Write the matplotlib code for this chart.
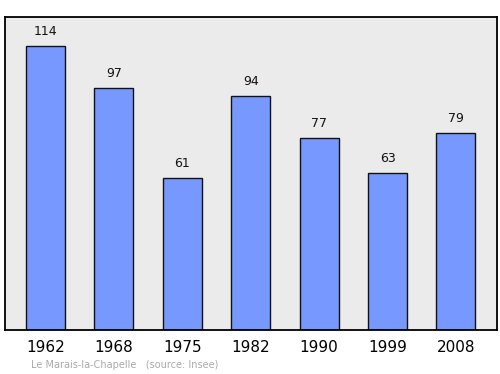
import matplotlib
matplotlib.use("Agg")
import matplotlib.pyplot as plt

years = ["1962", "1968", "1975", "1982", "1990", "1999", "2008"]
population = [114, 97, 61, 94, 77, 63, 79]

fig = plt.figure(figsize=(5.0, 3.74), dpi=100)
W, H = 500, 374
ax = fig.add_axes([5 / W, 1 - 330 / H, 492 / W, 313 / H])
ax.set_facecolor("#ebebeb")

xs = list(range(len(years)))
ax.bar(xs, population, width=0.57, color="#7799ff", edgecolor="#111111", linewidth=1.0, zorder=2)
for x, v in zip(xs, population):
    ax.annotate(str(v), (x, v), xytext=(0, 6), textcoords="offset points",
                ha="center", va="bottom", fontsize=9, color="#111111")

ax.set_xlim(-0.592, 6.60)
ax.set_ylim(0, 125.7)
ax.set_xticks(xs)
ax.set_xticklabels(years, fontsize=11)
ax.tick_params(axis="x", length=0, pad=7)
ax.set_yticks([])
for s in ax.spines.values():
    s.set_linewidth(1.3)
    s.set_color("#000000")

fig.text(31 / W, 1 - 365 / H, "Le Marais-la-Chapelle   (source: Insee)",
         fontsize=7, color="#aaaaaa", ha="left", va="center")

fig.savefig("out.png", dpi=100)
